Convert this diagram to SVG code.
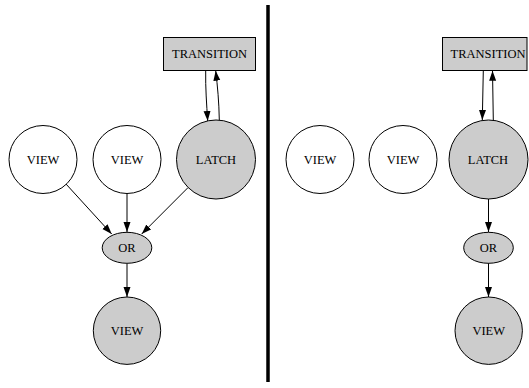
<svg xmlns="http://www.w3.org/2000/svg" width="529" height="388" viewBox="0 0 529 388">
<style>
  .n { stroke: #000; stroke-width: 1; }
  .w { fill: #fff; }
  .g { fill: #cccccc; }
  .t { font-family: "Liberation Serif", "Times New Roman", serif; font-size: 12.5px; fill: #000; text-anchor: middle; dominant-baseline: central; }
  .e { fill: none; stroke: #000; stroke-width: 1; marker-end: url(#ah); }
</style>
<defs>
  <marker id="ah" markerUnits="userSpaceOnUse" markerWidth="10" markerHeight="8" refX="10" refY="3.5" orient="auto">
    <path d="M0,0 L10,3.5 L0,7 z" fill="#000"/>
  </marker>
</defs>
<rect width="529" height="388" fill="#fff"/>
<line x1="268" y1="5" x2="268" y2="382" stroke="#000" stroke-width="3.5"/>

<g id="connectors">
  <path class="e" d="M205.7,70.7 C205.4,88 206.6,104 207.7,121"/>
  <path class="e" d="M219.3,120 C219,102 217.5,86 215.7,70.7"/>
  <path class="e" d="M66,184 L111.7,234"/>
  <path class="e" d="M127,193 L127,232"/>
  <path class="e" d="M188.1,187.5 L141.7,234"/>
  <path class="e" d="M127,263.5 L127,297"/>
  <path class="e" d="M483.3,70.7 L482.3,120"/>
  <path class="e" d="M493.3,120 L492.5,70.7"/>
  <path class="e" d="M488.5,199 L488.5,232"/>
  <path class="e" d="M488.5,263 L488.5,297"/>
</g>

<g id="l-transition"><rect class="n g" x="163.5" y="37.5" width="92" height="33"/><text class="t" x="209.5" y="54">TRANSITION</text></g>
<g id="l-view1"><circle class="n w" cx="43" cy="159.5" r="34"/><text class="t" x="43" y="159.5">VIEW</text></g>
<g id="l-view2"><circle class="n w" cx="127" cy="159.5" r="34"/><text class="t" x="127" y="159.5">VIEW</text></g>
<g id="l-latch"><circle class="n g" cx="216" cy="159.5" r="39.5"/><text class="t" x="216" y="159.5">LATCH</text></g>
<g id="l-or"><ellipse class="n g" cx="127" cy="247.8" rx="24.8" ry="15.5"/><text class="t" x="127" y="247.8">OR</text></g>
<g id="l-view3"><circle class="n g" cx="127" cy="330.7" r="33.7"/><text class="t" x="127" y="330.7">VIEW</text></g>

<g id="r-transition"><rect class="n g" x="442.5" y="37.5" width="84.5" height="33"/><text class="t" x="488" y="54">TRANSITION</text></g>
<g id="r-view1"><circle class="n w" cx="320" cy="159.5" r="34"/><text class="t" x="320" y="159.5">VIEW</text></g>
<g id="r-view2"><circle class="n w" cx="403" cy="159.5" r="34"/><text class="t" x="403" y="159.5">VIEW</text></g>
<g id="r-latch"><circle class="n g" cx="488.5" cy="159.5" r="39.5"/><text class="t" x="488" y="159.5">LATCH</text></g>
<g id="r-or"><ellipse class="n g" cx="488.5" cy="247.8" rx="24.8" ry="15.5"/><text class="t" x="488.5" y="247.8">OR</text></g>
<g id="r-view3"><circle class="n g" cx="488.7" cy="330.7" r="33.7"/><text class="t" x="488.7" y="330.7">VIEW</text></g>
</svg>
